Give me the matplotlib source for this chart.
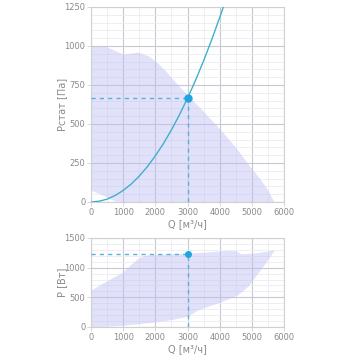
import matplotlib
matplotlib.use("Agg")
import matplotlib.pyplot as plt
import numpy as np

# ---- data ----
# Top chart: static pressure working zone
zone_q_upper = [0, 440, 700, 1000, 1250, 1470, 1800, 2060, 2300, 2560, 2940, 3500, 4030, 4500, 4875, 5280, 5500, 5690]
zone_p_upper = [1000, 1000, 975, 949, 955, 961, 935, 893, 845, 782, 699, 580, 462, 350, 245, 141, 75, 0]
zone_q_lower = [0, 200, 400, 600, 800, 5690]
zone_p_lower = [75, 62, 42, 20, 0, 0]

# System curve
sys_q = [0, 250, 500, 750, 1000, 1250, 1500, 1750, 2000, 2250, 2500, 2750,
         3000, 3250, 3500, 3750, 4000, 4120]
sys_p = [0, 5, 18, 42, 74, 115, 166, 226, 296, 374, 462, 559,
         665, 780, 905, 1039, 1182, 1254]

op_q = 3000
op_p = 665

# Bottom chart: power working zone
pw_q_upper = [0, 500, 1000, 1250, 1460, 1700, 2780, 3500, 4125, 4500, 4660, 5180, 5700]
pw_p_upper = [623, 780, 932, 1060, 1158, 1215, 1240, 1260, 1288, 1288, 1232, 1254, 1300]
pw_q_lower = [0, 1000, 2000, 2500, 3000, 3300, 4030, 4550, 4900, 5180, 5450, 5700]
pw_p_lower = [0, 30, 85, 125, 180, 283, 424, 537, 700, 905, 1100, 1300]

op_power = 1226

xticks = [0, 1000, 2000, 3000, 4000, 5000, 6000]
yticks_top = [0, 250, 500, 750, 1000, 1250]
yticks_bot = [0, 500, 1000, 1500]

xlabel = "Q [м³/ч]"
ylabel_top = "Рстат [Па]"
ylabel_bot = "P [Вт]"

# ---- style ----
fill_c = "#bdbdf5"
curve_c = "#3fb0cc"
dot_c = "#1ea5df"
dash_c = "#5ab0d8"
text_c = "#8a8a8a"
grid_major = "#c8c8d2"
grid_minor = "#ececf0"
spine_c = "#d0d0d0"

fig = plt.figure(figsize=(3.56, 3.56), dpi=100)
ax1 = fig.add_axes([0.2556, 0.4326, 0.5422, 0.5478])
ax2 = fig.add_axes([0.2556, 0.0815, 0.5422, 0.2500])


def style(ax, yticks, yminor):
    ax.set_xlim(0, 6000)
    ax.set_ylim(yticks[0], yticks[-1])
    ax.set_xticks(xticks)
    ax.set_yticks(yticks)
    ax.set_xticks(np.arange(0, 6001, 500), minor=True)
    ax.set_yticks(np.arange(0, yticks[-1] + 1, yminor), minor=True)
    ax.grid(which="major", color=grid_major, linewidth=0.8, zorder=0)
    ax.grid(which="minor", color=grid_minor, linewidth=0.6, zorder=0)
    ax.set_axisbelow(True)
    for s in ax.spines.values():
        s.set_color(spine_c)
        s.set_linewidth(0.8)
    ax.tick_params(which="major", length=3, width=0.6, color=spine_c,
                   labelsize=6, labelcolor=text_c, pad=1)
    ax.tick_params(which="minor", length=0)
    ax.set_xlabel(xlabel, fontsize=7, color=text_c, labelpad=2)


# top chart
style(ax1, yticks_top, 50)
uq = np.array(zone_q_upper)
up = np.array(zone_p_upper)
lp = np.interp(uq, zone_q_lower, zone_p_lower)
ax1.fill_between(uq, lp, up, color=fill_c, alpha=0.45, linewidth=0, zorder=1)
ax1.plot(sys_q, sys_p, color=curve_c, linewidth=1.0, zorder=3)
ax1.plot([0, op_q], [op_p, op_p], color=dash_c, linestyle=(0, (3, 3)), linewidth=1.0, zorder=3)
ax1.plot([op_q, op_q], [0, op_p], color=dash_c, linestyle=(0, (3, 3)), linewidth=1.0, zorder=3)
ax1.plot([op_q], [op_p], "o", color=dot_c, markersize=5, zorder=4)
ax1.set_ylabel(ylabel_top, fontsize=7, color=text_c)
ax1.yaxis.set_label_coords(-0.124, 0.5)

# bottom chart
style(ax2, yticks_bot, 100)
qq = np.linspace(0, 5700, 300)
u2 = np.interp(qq, pw_q_upper, pw_p_upper)
l2 = np.interp(qq, pw_q_lower, pw_p_lower)
ax2.fill_between(qq, l2, u2, color=fill_c, alpha=0.45, linewidth=0, zorder=1)
ax2.plot([0, op_q], [op_power, op_power], color=dash_c, linestyle=(0, (3, 3)), linewidth=1.0, zorder=3)
ax2.plot([op_q, op_q], [0, op_power], color=dash_c, linestyle=(0, (3, 3)), linewidth=1.0, zorder=3)
ax2.plot([op_q], [op_power], "o", color=dot_c, markersize=4, zorder=4)
ax2.set_ylabel(ylabel_bot, fontsize=7, color=text_c)
ax2.yaxis.set_label_coords(-0.124, 0.5)

fig.savefig("out.png", dpi=100)
